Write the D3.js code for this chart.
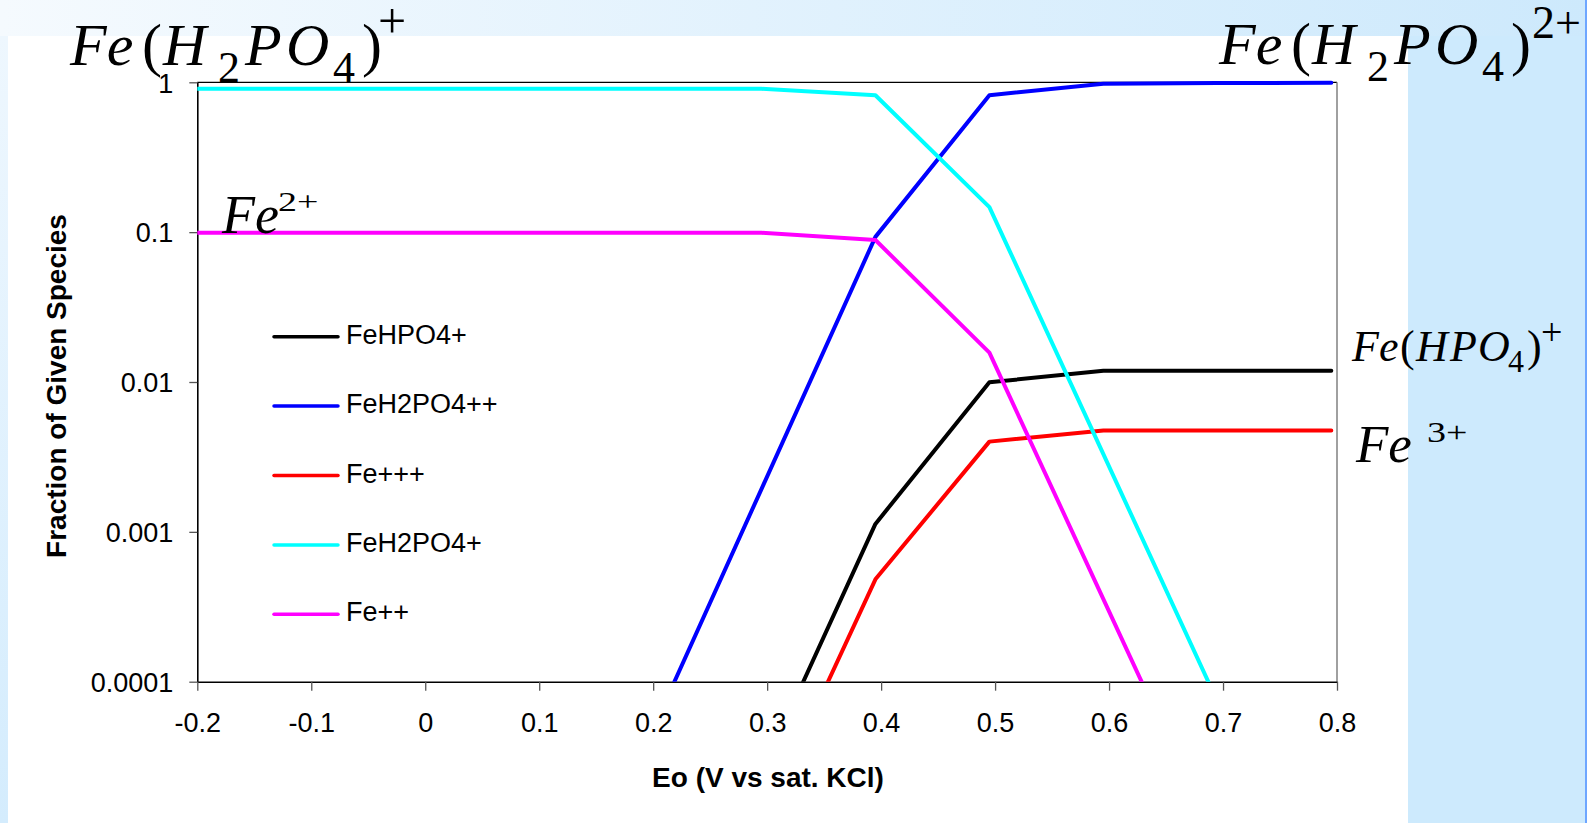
<!DOCTYPE html>
<html>
<head>
<meta charset="utf-8">
<style>
  body { margin: 0; }
  svg { display: block; }
  .tick text { font-family: "Liberation Sans", Arial, sans-serif; font-size: 27px; fill: #000; }
  .axis-title { font-family: "Liberation Sans", Arial, sans-serif; font-size: 28px; font-weight: bold; }
  .legend text { font-family: "Liberation Sans", Arial, sans-serif; font-size: 27px; }
  .chem { font-family: "Liberation Serif", "Times New Roman", serif; fill: #000; }
</style>
</head>
<body>
<svg width="1587" height="823"></svg>
<script src="https://d3js.org/d3.v7.min.js"></script>
<script>
// Eo (V vs sat. KCl)
var eo = [-0.205, -0.105, -0.005, 0.095, 0.195, 0.295, 0.395, 0.495, 0.595, 0.695, 0.795];

// fraction of each species (values below 0.0001 fall off the axis)
var feHPO4p   = [9.6e-14, 4.6e-12, 2.2e-10, 1.1e-8, 5.1e-7, 2.45e-5, 0.00113, 0.00995, 0.0119, 0.0119, 0.0119];
var feH2PO4pp = [7.3e-12, 3.5e-10, 1.7e-8, 8.3e-7, 4.0e-5, 0.00193, 0.093, 0.82, 0.977, 0.988, 0.994];
var fePPP     = [4.4e-14, 2.1e-12, 1.0e-10, 4.8e-9, 2.3e-7, 1.1e-5, 0.000482, 0.0040, 0.00475, 0.00475, 0.00475];
var feH2PO4p  = [0.905, 0.905, 0.905, 0.905, 0.905, 0.905, 0.82, 0.147, 0.0033, 7.4e-5, 1.7e-6];
var fePP      = [0.099, 0.099, 0.099, 0.099, 0.099, 0.099, 0.0886, 0.0157, 0.000356, 8.1e-6, 1.8e-7];

var seriesNames = ["FeHPO4+", "FeH2PO4++", "Fe+++", "FeH2PO4+", "Fe++"];
var seriesValues = [feHPO4p, feH2PO4pp, fePPP, feH2PO4p, fePP];
var seriesColors = ["#000000", "#0000ff", "#ff0000", "#00ffff", "#ff00ff"];

var xTicks = [-0.2, -0.1, 0, 0.1, 0.2, 0.3, 0.4, 0.5, 0.6, 0.7, 0.8];
var xTickLabels = ["-0.2", "-0.1", "0", "0.1", "0.2", "0.3", "0.4", "0.5", "0.6", "0.7", "0.8"];
var yTicks = [0.0001, 0.001, 0.01, 0.1, 1];
var yTickLabels = ["0.0001", "0.001", "0.01", "0.1", "1"];

var svg = d3.select("svg");
var W = 1587, H = 823;

// ---- slide background
var defs = svg.append("defs");
var gTop = defs.append("linearGradient").attr("id", "gTop")
    .attr("x1", 0).attr("y1", 0).attr("x2", 1).attr("y2", 0);
gTop.append("stop").attr("offset", 0).attr("stop-color", "#f5fafe");
gTop.append("stop").attr("offset", 1).attr("stop-color", "#cde9fc");
var gLeft = defs.append("linearGradient").attr("id", "gLeft")
    .attr("x1", 0).attr("y1", 0).attr("x2", 0).attr("y2", 1);
gLeft.append("stop").attr("offset", 0).attr("stop-color", "#eef7fe");
gLeft.append("stop").attr("offset", 1).attr("stop-color", "#d4ecfd");

svg.append("rect").attr("width", W).attr("height", H).attr("fill", "#cdeafd");
svg.append("rect").attr("width", W).attr("height", 36).attr("fill", "url(#gTop)");
svg.append("rect").attr("y", 36).attr("width", 8).attr("height", H - 36).attr("fill", "url(#gLeft)");
svg.append("rect").attr("x", 8).attr("y", 36).attr("width", 1400).attr("height", H - 36).attr("fill", "#fff");
svg.append("rect").attr("x", 1408).attr("y", 36).attr("width", 177).attr("height", H - 36).attr("fill", "#cdeafd");
svg.append("rect").attr("x", 1585).attr("y", 0).attr("width", 2).attr("height", H).attr("fill", "#6ea6ff");

// ---- scales
var plotL = 197.3, plotR = 1337, plotT = 82.3, plotB = 681.7;
var x = d3.scaleLinear().domain([-0.2, 0.8]).range([plotL, plotR]);
var y = d3.scaleLog().domain([0.0001, 1]).range([plotB, plotT]);

defs.append("clipPath").attr("id", "plotClip")
  .append("rect").attr("x", plotL).attr("y", plotT - 4)
  .attr("width", plotR - plotL).attr("height", plotB - plotT + 4);

// plot border (top / right)
svg.append("line").attr("x1", plotL).attr("x2", plotR).attr("y1", plotT).attr("y2", plotT)
    .attr("stroke", "#000").attr("stroke-width", 1.3);
svg.append("line").attr("x1", plotR).attr("x2", plotR).attr("y1", plotT).attr("y2", plotB)
    .attr("stroke", "#808080").attr("stroke-width", 1.5);

// ---- axes
var yAxis = svg.append("g")
    .attr("transform", "translate(" + plotL + ",0)")
    .call(d3.axisLeft(y).tickValues(yTicks)
      .tickFormat(function(d, i) { return yTickLabels[i]; })
      .tickSize(8).tickSizeOuter(0).tickPadding(16));
yAxis.selectAll("text").attr("dy", "0.36em");

var xAxis = svg.append("g")
    .attr("transform", "translate(0," + plotB + ")")
    .call(d3.axisBottom(x).tickValues(xTicks)
      .tickFormat(function(d, i) { return xTickLabels[i]; })
      .tickSize(9).tickSizeOuter(0));
xAxis.selectAll("text").attr("y", 50).attr("dy", 0);

svg.selectAll(".domain").attr("stroke", "#000").attr("stroke-width", 1.6);
svg.selectAll(".tick line").attr("stroke", "#555").attr("stroke-width", 1.3);

svg.append("text").attr("class", "axis-title")
    .attr("text-anchor", "middle")
    .attr("transform", "translate(66,386) rotate(-90)")
    .text("Fraction of Given Species");
svg.append("text").attr("class", "axis-title")
    .attr("text-anchor", "middle")
    .attr("x", 768).attr("y", 787)
    .text("Eo (V vs sat. KCl)");

// ---- lines
var line = d3.line()
    .x(function(d, i) { return x(eo[i]); })
    .y(function(d) { return y(d); });

svg.append("g").attr("clip-path", "url(#plotClip)")
  .selectAll("path")
  .data(seriesValues)
  .enter().append("path")
    .attr("d", line)
    .attr("fill", "none")
    .attr("stroke", function(d, i) { return seriesColors[i]; })
    .attr("stroke-width", 4)
    .attr("stroke-linejoin", "round")
    .attr("stroke-linecap", "round");

// ---- legend
var legend = svg.append("g").attr("class", "legend")
  .selectAll("g")
  .data(seriesNames)
  .enter().append("g")
    .attr("transform", function(d, i) { return "translate(274," + (336.7 + i * 69.4) + ")"; });
legend.append("line")
    .attr("x1", 0).attr("x2", 64)
    .attr("stroke", function(d, i) { return seriesColors[i]; })
    .attr("stroke-width", 3.5).attr("stroke-linecap", "round");
legend.append("text")
    .attr("x", 72).attr("y", 7)
    .text(function(d) { return d; });

// ---- chemical formula labels
function chem(pieces, ox, oy) {
  var g = svg.append("g").attr("class", "chem").attr("transform", "translate(" + ox + "," + oy + ")");
  pieces.forEach(function(p) {
    g.append("text")
      .attr("transform", "translate(" + p[1] + "," + p[2] + ")" + (p[5] ? " scale(1," + p[5] + ")" : ""))
      .style("font-size", p[3] + "px")
      .style("font-style", p[4] ? "italic" : "normal")
      .text(p[0]);
  });
}

var h2po4 = [
  ["Fe", 0, 0, 60, true], ["(", 72, 0, 60], ["H", 93, 0, 60, true], ["2", 148, 17, 44],
  ["P", 175, 0, 60, true], ["O", 216, 0, 60, true], ["4", 263, 17, 44], [")", 292, 0, 60]
];
chem(h2po4.concat([["+", 308, -27, 50]]), 70, 65);
chem(h2po4.concat([["2+", 313, -26, 46]]), 1219, 63.5);

chem([
  ["Fe", 0, 0, 44, true], ["(", 48, 0, 44], ["H", 64, 0, 44, true],
  ["P", 98, 0, 44, true], ["O", 126, 0, 44, true], ["4", 156, 11, 32], [")", 175, 0, 44],
  ["+", 189, -16, 38]
], 1352, 361);

chem([["Fe", 0, 0, 53, true], ["3+", 71, -20, 38, false, 0.8]], 1356, 461.7);
chem([["Fe", 0, 0, 54, true], ["2+", 56, -22, 38, false, 0.72]], 222, 232.7);
</script>
</body>
</html>
